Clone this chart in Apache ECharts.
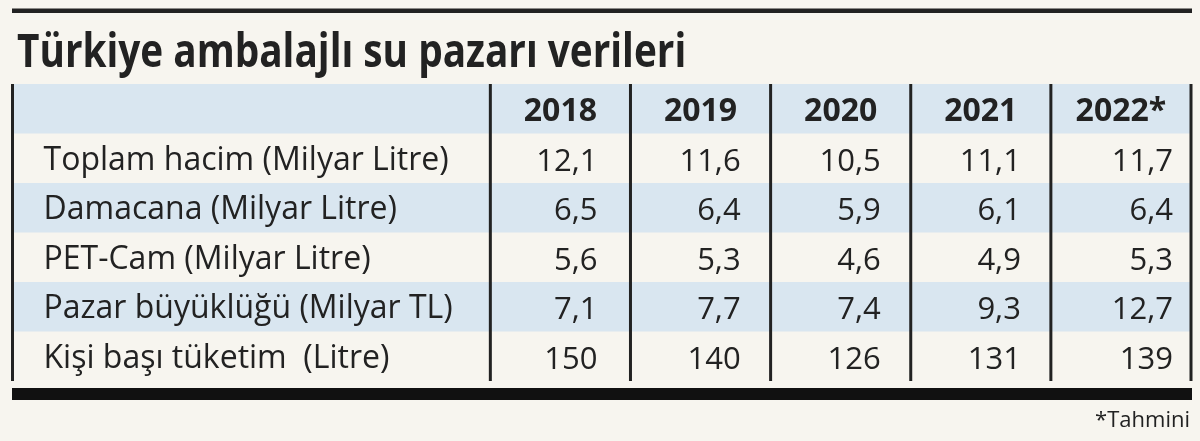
<!DOCTYPE html>
<html><head><meta charset="utf-8">
<script src="https://cdn.jsdelivr.net/npm/echarts@6/dist/echarts.min.js"></script>
<style>html,body{margin:0;padding:0;background:#f7f5ef}#c{width:1200px;height:441px}</style>
</head><body><div id="c"></div>
<script>
const title = 'Türkiye ambalajlı su pazarı verileri';
const years = ['2018', '2019', '2020', '2021', '2022*'];
const rowLabels = ['Toplam hacim (Milyar Litre)', 'Damacana (Milyar Litre)', 'PET-Cam (Milyar Litre)', 'Pazar büyüklüğü (Milyar TL)', 'Kişi başı tüketim  (Litre)'];
const toplamHacim = [12.1, 11.6, 10.5, 11.1, 11.7];
const damacana = [6.5, 6.4, 5.9, 6.1, 6.4];
const petCam = [5.6, 5.3, 4.6, 4.9, 5.3];
const pazarBuyuklugu = [7.1, 7.7, 7.4, 9.3, 12.7];
const kisiBasi = [150, 140, 126, 131, 139];
const rowDecimals = [1, 1, 1, 1, 0];
const footnote = '*Tahmini';

// layout / style constants
const rows = [toplamHacim, damacana, petCam, pazarBuyuklugu, kisiBasi];
const LABEL_MIN = -3.41;
const NCOL = years.length;
const valuePad = [33, 30, 30, 30, 18];
const INK = '#222222';
const BLUE = '#d9e6f0';
const FONT = '"Open Sans", "Noto Sans", sans-serif';
function fmt(v, r) { return v.toFixed(rowDecimals[r]).replace('.', ','); }

const cells = [];
years.forEach((y, i) => cells.push({ x: i + 0.5, row: 0, text: y, kind: 'header', col: i }));
rowLabels.forEach((l, r) => {
  cells.push({ x: LABEL_MIN, row: r + 1, text: l, kind: 'label', col: -1 });
  rows[r].forEach((v, i) => cells.push({ x: i + 1, row: r + 1, text: fmt(v, r), kind: 'value', col: i }));
});
const bandRows = [0, 2, 4];
const lineXs = [LABEL_MIN];
for (let i = 0; i <= NCOL; i++) lineXs.push(i);

const chart = echarts.init(document.getElementById('c'), null, { renderer: 'canvas' });
chart.setOption({
  backgroundColor: '#f7f5ef',
  animation: false,
  grid: { left: 12.5, right: 9, top: 84, bottom: 60 },
  xAxis: { type: 'value', min: LABEL_MIN, max: NCOL, show: false },
  yAxis: { type: 'category', data: ['', ...rowLabels], inverse: true, show: false },
  graphic: [
    { type: 'rect', shape: { x: 12, y: 8.5, width: 1180, height: 4.5 }, style: { fill: INK } },
    { type: 'text', x: 17, y: 53.5, scaleX: 0.842, style: { x: 0, y: 0, text: title, font: 'bold 46px ' + FONT, fill: INK, verticalAlign: 'middle', align: 'left' } },
    { type: 'rect', shape: { x: 12, y: 388, width: 1180, height: 12 }, style: { fill: '#111' } },
    { type: 'text', style: { x: 1190, y: 421, text: footnote, font: '22px ' + FONT, fill: INK, verticalAlign: 'middle', align: 'right' } }
  ],
  series: [
    {
      type: 'custom', silent: true, z: 1,
      data: bandRows.map(r => [LABEL_MIN, r]),
      encode: { x: 0, y: 1 },
      renderItem(params, api) {
        const r = api.value(1);
        const a = api.coord([LABEL_MIN, r]);
        const b = api.coord([NCOL, r]);
        const h = api.size([0, 1])[1];
        return { type: 'rect', shape: { x: a[0], y: a[1] - h / 2, width: b[0] - a[0], height: h }, style: { fill: BLUE } };
      }
    },
    {
      type: 'custom', silent: true, z: 3,
      data: lineXs.map(x => [x, 0]),
      encode: { x: 0, y: 1 },
      renderItem(params, api) {
        const x = api.value(0);
        const h = api.size([0, 1])[1];
        const top = api.coord([x, 0]);
        const bot = api.coord([x, rowLabels.length]);
        return { type: 'rect', shape: { x: top[0] - 1.5, y: top[1] - h / 2, width: 3, height: bot[1] - top[1] + h }, style: { fill: INK } };
      }
    },
    {
      type: 'custom', silent: true, z: 4,
      data: cells.map(c => [c.x, c.row]),
      encode: { x: 0, y: 1 },
      renderItem(params, api) {
        const c = cells[params.dataIndex];
        const p = api.coord([c.x, c.row]);
        let x = p[0], y = p[1] + 3, align = 'center', font = 'bold 32px ' + FONT;
        if (c.kind === 'label') { x += 31; y = p[1] + 2.5; align = 'left'; font = '32px ' + FONT; }
        else if (c.kind === 'value') { x -= valuePad[c.col]; y = p[1] + 3.5; align = 'right'; font = '31px ' + FONT; }
        return { type: 'text', style: { x: x, y: y, text: c.text, align: align, verticalAlign: 'middle', font: font, fill: INK } };
      }
    }
  ]
});
</script>
</body></html>
